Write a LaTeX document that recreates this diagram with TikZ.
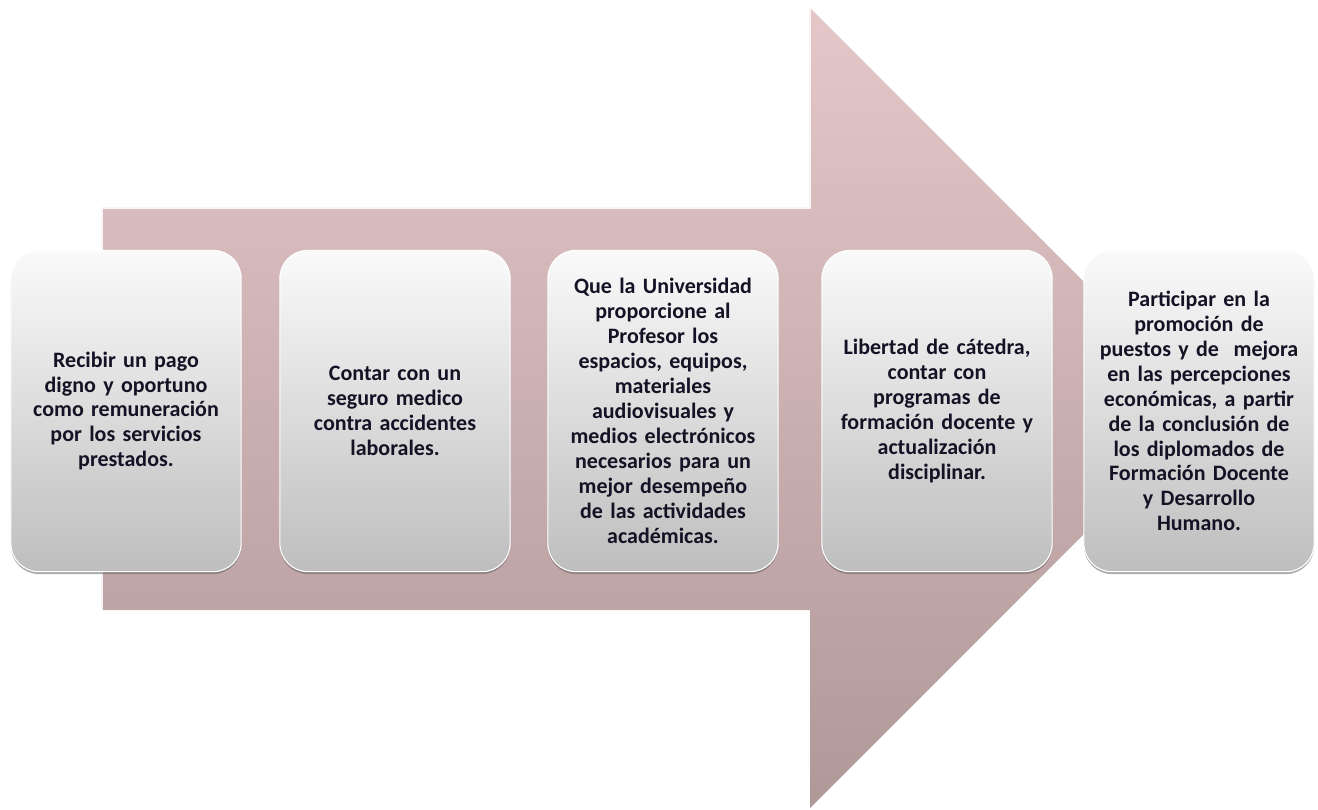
\documentclass[tikz,border=0pt]{standalone}
\usepackage{fontspec}
\setmainfont{Carlito}
\usetikzlibrary{shadows}
\definecolor{arrowtop}{RGB}{229,199,201}
\definecolor{arrowbot}{RGB}{176,152,153}
\definecolor{boxtop}{RGB}{250,250,250}
\definecolor{boxbot}{RGB}{190,190,190}
\definecolor{txt}{RGB}{20,18,36}
\tikzset{
  stagebox/.style={rounded corners=21pt, minimum width=172pt, minimum height=241pt,
    top color=boxtop, bottom color=boxbot, draw=white, line width=0.8pt,
    drop shadow={shadow xshift=0pt, shadow yshift=-1.8pt, fill=black!60, opacity=0.55},
    align=center, text width=166pt, text=txt,
    font=\fontsize{16.5pt}{18.7pt}\selectfont\bfseries},
  bigarrow/.style={top color=arrowtop, bottom color=arrowbot, draw=none}
}
\begin{document}
\begin{tikzpicture}[x=0.75pt,y=-0.75pt]
\useasboundingbox (0,0) rectangle (1318,810);
\path[bigarrow] (102,208) -- (810,208) -- (810,8) -- (1210,408) -- (810,808) -- (810,610) -- (102,610) -- cycle;
\draw[white!80!arrowtop, line width=1pt] (102,610) -- (102,208) -- (810,208) -- (810,8);
\node[stagebox] (b1) at (126,411) {Recibir un pago\\ digno y oportuno\\ como remuneración\\ por los servicios\\ prestados.};
\node[stagebox] (b2) at (395,411) {Contar con un\\ seguro medico\\ contra accidentes\\ laborales.};
\node[stagebox] (b3) at (663,411) {Que la Universidad\\ proporcione al\\ Profesor los\\ espacios, equipos,\\ materiales\\ audiovisuales y\\ medios electrónicos\\ necesarios para un\\ mejor desempeño\\ de las actividades\\ académicas.};
\node[stagebox] (b4) at (937,411) {Libertad de cátedra,\\ contar con\\ programas de\\ formación docente y\\ actualización\\ disciplinar.};
\node[stagebox] (b5) at (1199,411) {Participar en la\\ promoción de\\ puestos y de\ \ mejora\\ en las percepciones\\ económicas, a partir\\ de la conclusión de\\ los diplomados de\\ Formación Docente\\ y Desarrollo\\ Humano.};
\end{tikzpicture}
\end{document}
